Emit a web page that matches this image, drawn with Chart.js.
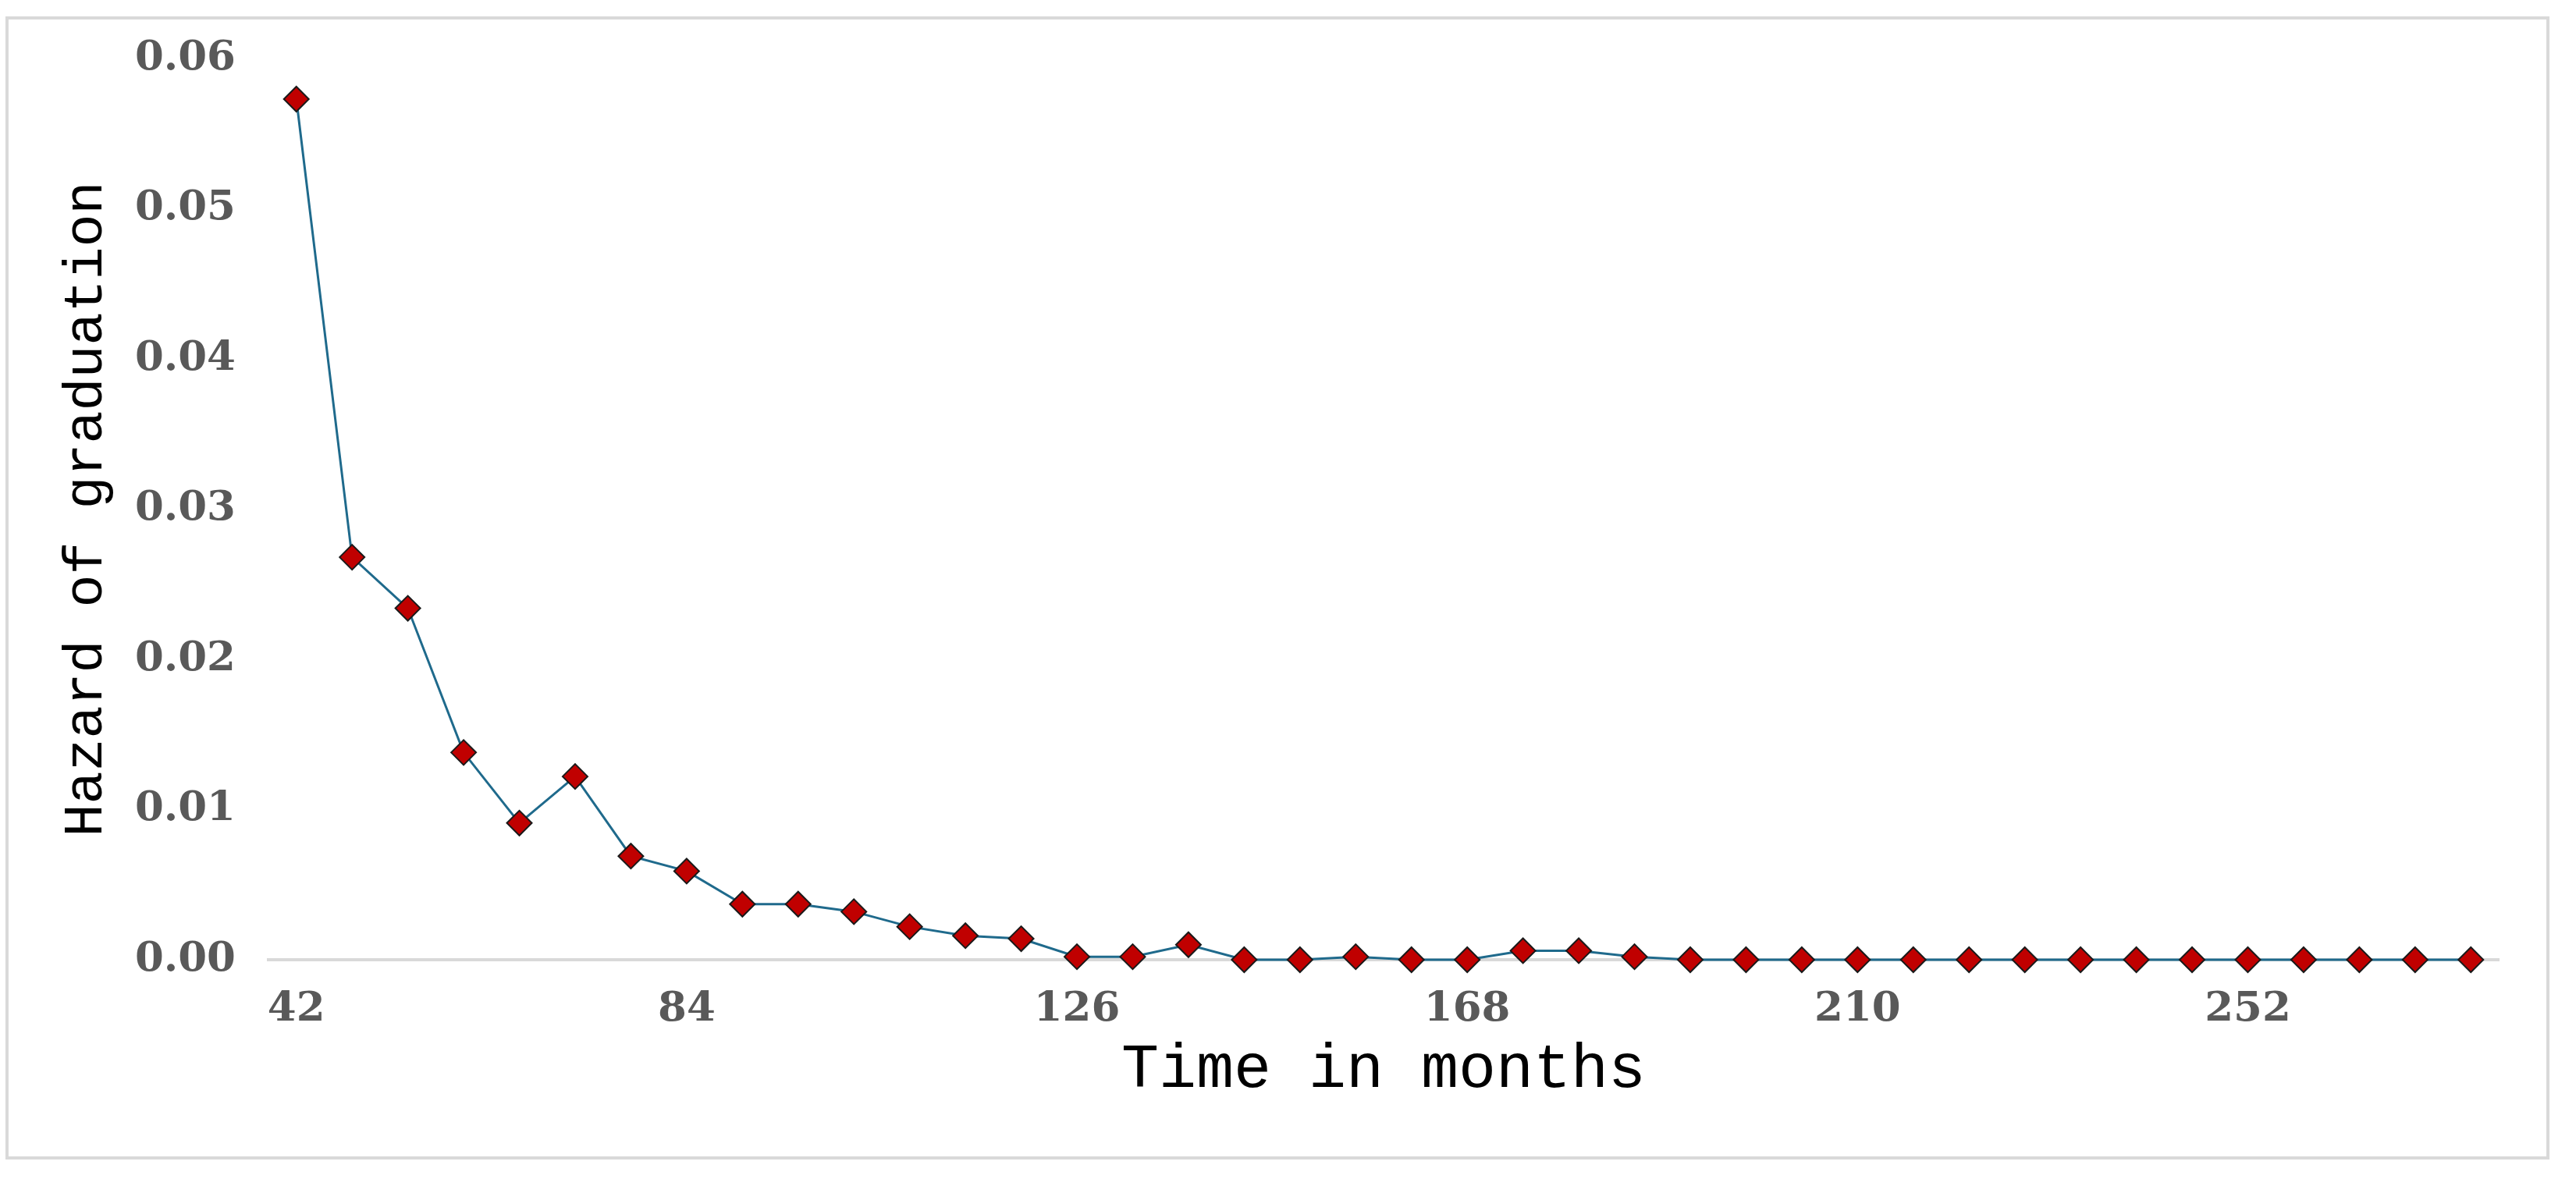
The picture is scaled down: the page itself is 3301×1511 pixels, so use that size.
<!DOCTYPE html>
<html>
<head>
<meta charset="utf-8">
<script src="https://cdn.jsdelivr.net/npm/chart.js@4/dist/chart.umd.min.js"></script>
<style>
  html, body { margin: 0; padding: 0; background: #ffffff; }
  #frame { position: absolute; left: 7px; top: 21px; width: 3252px; height: 1457px; border: 4px solid #d9d9d9; }
  #wrap { position: absolute; left: 0; top: 0; width: 3301px; height: 1511px; }
</style>
</head>
<body>
<div id="frame"></div>
<div id="wrap"><canvas id="c"></canvas></div>
<script>
const months = [42, 48, 54, 60, 66, 72, 78, 84, 90, 96, 102, 108, 114, 120, 126, 132, 138, 144, 150, 156,
                162, 168, 174, 180, 186, 192, 198, 204, 210, 216, 222, 228, 234, 240, 246, 252, 258, 264, 270, 276];
const hazard = [0.0573, 0.0268, 0.0234, 0.0138, 0.0091, 0.0122, 0.0069, 0.0059, 0.0037, 0.0037,
                0.0032, 0.0022, 0.0016, 0.0014, 0.0002, 0.0002, 0.0010, 0.0000, 0.0000, 0.0002,
                0.0000, 0.0000, 0.0006, 0.0006, 0.0002, 0.0000, 0.0000, 0.0000, 0.0000, 0.0000,
                0.0000, 0.0000, 0.0000, 0.0000, 0.0000, 0.0000, 0.0000, 0.0000, 0.0000, 0.0000];
const xTickLabels = [42, 84, 126, 168, 210, 252];
const yMin = 0;
const yMax = 0.06;
const yStep = 0.01;
const xTitle = 'Time in months';
const yTitle = 'Hazard of graduation';

const tickFont = { family: '"DejaVu Serif", serif', size: 53, weight: 'bold' };
const tickColor = '#595959';

new Chart(document.getElementById('c'), {
  type: 'line',
  data: {
    labels: months,
    datasets: [{
      data: hazard,
      borderColor: '#1F6A8C',
      borderWidth: 3,
      tension: 0,
      fill: false,
      clip: false,
      pointStyle: 'rectRot',
      pointRadius: 16,
      pointHoverRadius: 16,
      pointBackgroundColor: '#C00000',
      pointBorderColor: '#1a1a1a',
      pointBorderWidth: 2
    }]
  },
  options: {
    responsive: true,
    maintainAspectRatio: false,
    animation: false,
    layout: { padding: { top: 75, right: 99, left: 0, bottom: 0 } },
    plugins: { legend: { display: false }, tooltip: { enabled: false } },
    scales: {
      x: {
        type: 'category',
        offset: true,
        grid: { display: false, drawTicks: false },
        border: { display: true, color: '#d9d9d9', width: 4 },
        ticks: {
          autoSkip: false,
          maxRotation: 0,
          padding: 32,
          font: tickFont,
          color: tickColor,
          callback: function (v, i) {
            const m = months[i];
            return xTickLabels.includes(m) ? String(m) : '';
          }
        },
        title: {
          display: true,
          text: xTitle,
          color: '#000000',
          font: { family: '"Liberation Mono", monospace', size: 80 },
          padding: { top: 0, bottom: 91 }
        },
        afterFit: function (s) { s.height = 281; }
      },
      y: {
        min: yMin,
        max: yMax,
        grid: { display: false, drawTicks: false },
        border: { display: false },
        ticks: {
          stepSize: yStep,
          padding: 42,
          font: tickFont,
          color: tickColor,
          callback: function (v) { return Number(v).toFixed(2); }
        },
        title: {
          display: true,
          text: yTitle,
          color: '#000000',
          font: { family: '"Liberation Mono", monospace', size: 70 },
          padding: { top: 69, bottom: 0 }
        },
        afterFit: function (s) { s.width = 344; }
      }
    }
  }
});
</script>
</body>
</html>
